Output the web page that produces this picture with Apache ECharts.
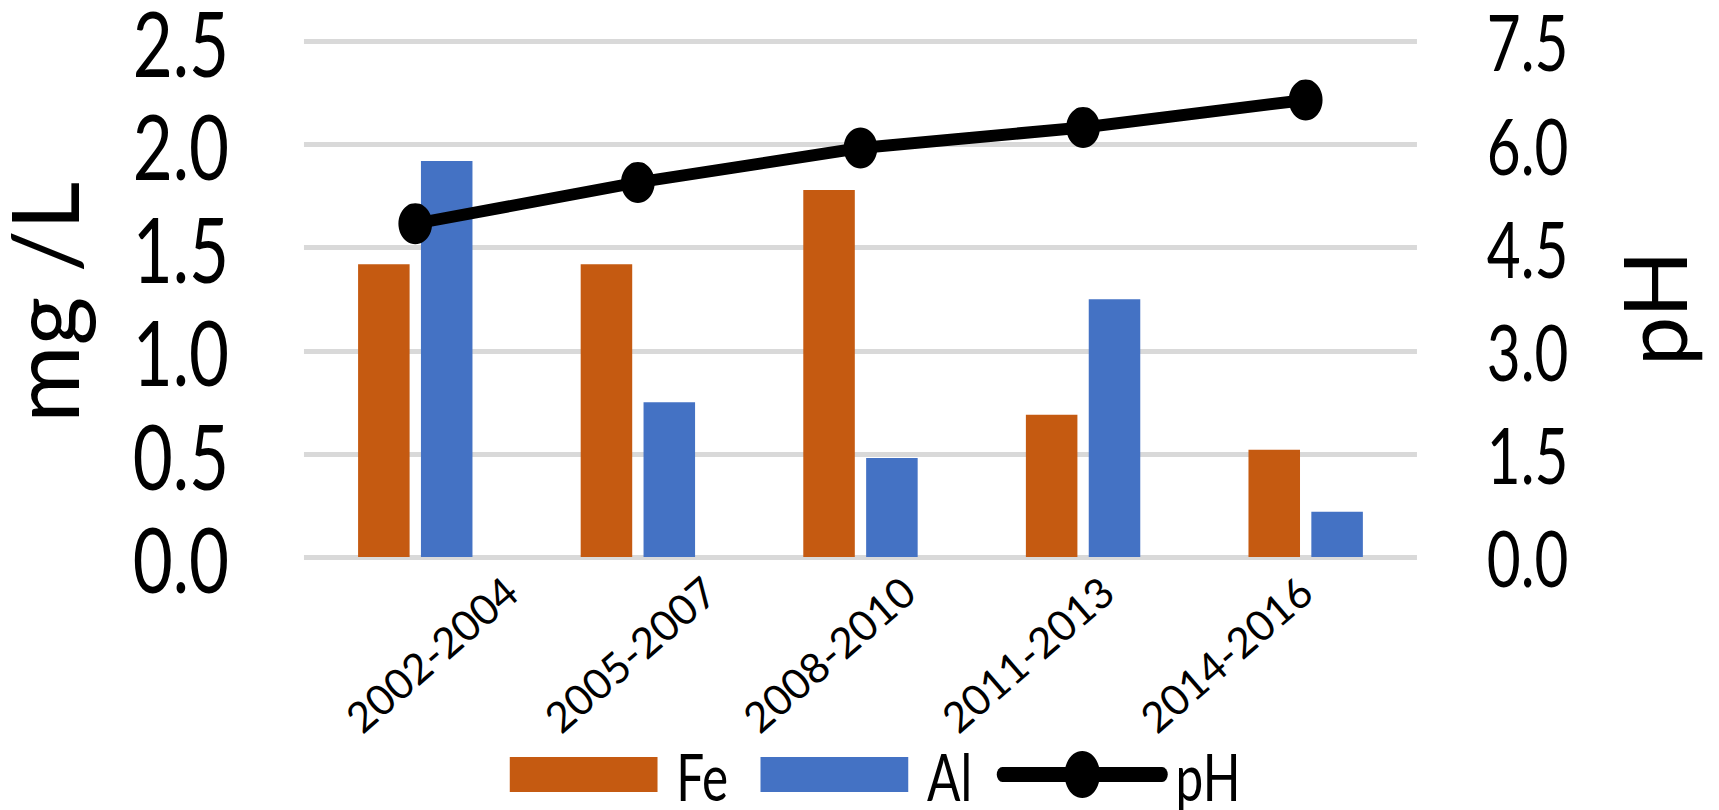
<!DOCTYPE html>
<html>
<head>
<meta charset="utf-8">
<title>Fe, Al and pH by period</title>
<script src="https://cdn.jsdelivr.net/npm/echarts@6/dist/echarts.min.js"></script>
<style>
  html, body { margin: 0; padding: 0; background: #ffffff; width: 1719px; height: 810px; overflow: hidden; position: relative; }
  /* Plot layer: laid out on a wider canvas and narrowed horizontally,
     which gives the tall, condensed lettering of the tick labels and legend. */
  #chart { position: absolute; left: 0; top: 0; width: 2292px; height: 810px; transform: scaleX(0.75); transform-origin: 0 0; }
  /* Text layer for the slanted period labels and the axis titles (not narrowed). */
  #labels { position: absolute; left: 0; top: 0; width: 1719px; height: 810px; pointer-events: none; }
</style>
</head>
<body>
<div id="chart"></div>
<div id="labels"></div>
<script>
// Sampling periods
const periods = ['2002-2004', '2005-2007', '2008-2010', '2011-2013', '2014-2016'];
// Concentrations, mg/L
const feValues = [1.42, 1.42, 1.78, 0.69, 0.52];
const alValues = [1.92, 0.75, 0.48, 1.25, 0.22];
// pH
const phValues = [4.85, 5.45, 5.95, 6.25, 6.65];
// Axis tick values
const massTicks = [0, 0.5, 1.0, 1.5, 2.0, 2.5];
const phTicks = [0, 1.5, 3.0, 4.5, 6.0, 7.5];

const FONT = 'Lato, "Noto Sans", sans-serif';
const FE_COLOR = '#C55A11';
const AL_COLOR = '#4472C4';
const GRID_COLOR = '#D9D9D9';

const massAxisRange = {
  min: massTicks[0],
  max: massTicks[massTicks.length - 1],
  interval: massTicks[1] - massTicks[0]
};
const phAxisRange = {
  min: phTicks[0],
  max: phTicks[phTicks.length - 1],
  interval: phTicks[1] - phTicks[0]
};

/* ---------- plot layer (bars, line, ticks, legend) ---------- */
const chart = echarts.init(document.getElementById('chart'), null, { renderer: 'svg' });

chart.setOption({
  backgroundColor: '#ffffff',
  animation: false,
  grid: { left: 405.3, right: 402.7, top: 41.5, bottom: 253, containLabel: false, outerBoundsMode: 'none' },
  legend: [
    {
      data: ['Fe', 'Al'],
      left: 674.7,
      top: 736.5,
      orient: 'horizontal',
      icon: 'rect',
      itemWidth: 197,
      itemHeight: 35,
      itemGap: 43,
      selectedMode: false,
      textStyle: { fontFamily: FONT, fontSize: 66, lineHeight: 66, color: '#000000', padding: [0, 0, 0, 20] }
    },
    {
      data: ['pH'],
      left: 1324,
      top: 736.5,
      itemWidth: 213,
      itemHeight: 59,
      selectedMode: false,
      lineStyle: { width: 15 },
      textStyle: { fontFamily: FONT, fontSize: 66, lineHeight: 66, color: '#000000', padding: [0, 0, 0, 13] }
    }
  ],
  xAxis: {
    type: 'category',
    data: periods,
    boundaryGap: true,
    axisLine: { show: false },
    axisTick: { show: false },
    axisLabel: { show: false },
    splitLine: { show: false }
  },
  yAxis: [
    Object.assign({
      type: 'value',
      position: 'left',
      axisLine: { show: false },
      axisTick: { show: false },
      splitLine: { show: true, lineStyle: { color: GRID_COLOR, width: 5 } },
      axisLabel: {
        margin: 100,
        fontFamily: FONT,
        fontSize: 92,
        lineHeight: 70,
        color: '#000000',
        formatter: v => v.toFixed(1)
      }
    }, massAxisRange),
    Object.assign({
      type: 'value',
      position: 'right',
      axisLine: { show: false },
      axisTick: { show: false },
      splitLine: { show: false },
      axisLabel: {
        margin: 93,
        fontFamily: FONT,
        fontSize: 78,
        lineHeight: 64,
        color: '#000000',
        formatter: v => v.toFixed(1)
      }
    }, phAxisRange)
  ],
  series: [
    {
      name: 'Fe',
      type: 'bar',
      yAxisIndex: 0,
      data: feValues,
      barWidth: 68.7,
      barGap: '22%',
      itemStyle: { color: FE_COLOR }
    },
    {
      name: 'Al',
      type: 'bar',
      yAxisIndex: 0,
      data: alValues,
      barWidth: 68.7,
      barGap: '22%',
      itemStyle: { color: AL_COLOR }
    },
    {
      name: 'pH',
      type: 'line',
      yAxisIndex: 1,
      data: phValues,
      symbol: 'circle',
      symbolSize: [45, 41],
      z: 5,
      lineStyle: { color: '#000000', width: 12, cap: 'round' },
      itemStyle: { color: '#000000' }
    }
  ]
});

/* ---------- text layer (period labels, axis titles) ---------- */
const labelChart = echarts.init(document.getElementById('labels'), null, { renderer: 'svg' });

const hiddenParts = {
  axisLine: { show: false },
  axisTick: { show: false },
  axisLabel: { show: false },
  splitLine: { show: false }
};

labelChart.setOption({
  animation: false,
  grid: [
    // same plotting rectangle as the plot layer, carries the axis titles
    { left: 304, right: 302, top: 41.5, bottom: 253, containLabel: false, outerBoundsMode: 'none' },
    // band for the slanted period labels
    { left: 411.7, right: 314.3, top: 41.5, bottom: 253, containLabel: false, outerBoundsMode: 'none' }
  ],
  xAxis: [
    Object.assign({ type: 'category', gridIndex: 0, data: periods }, hiddenParts),
    {
      type: 'category',
      gridIndex: 1,
      data: periods,
      boundaryGap: true,
      axisLine: { show: false },
      axisTick: { show: false },
      splitLine: { show: false },
      axisLabel: {
        rotate: 41,
        margin: 28,
        interval: 0,
        fontFamily: FONT,
        fontSize: 42,
        color: '#000000'
      }
    }
  ],
  yAxis: [
    Object.assign({
      type: 'value',
      gridIndex: 0,
      position: 'left',
      name: 'mg /L',
      nameLocation: 'middle',
      nameRotate: 90,
      nameGap: 215,
      nameMoveOverlap: false,
      nameTextStyle: { fontFamily: FONT, fontSize: 94, color: '#000000', padding: [0, 6, 0, 0] }
    }, massAxisRange, hiddenParts),
    Object.assign({
      type: 'value',
      gridIndex: 0,
      position: 'right',
      name: 'pH',
      nameLocation: 'middle',
      nameRotate: 90,
      nameGap: 192,
      nameMoveOverlap: false,
      nameTextStyle: { fontFamily: FONT, fontSize: 88, color: '#000000', padding: [0, 18, 0, 0] }
    }, phAxisRange, hiddenParts),
    { type: 'value', gridIndex: 1, min: 0, max: 1, show: false }
  ]
});
</script>
</body>
</html>
